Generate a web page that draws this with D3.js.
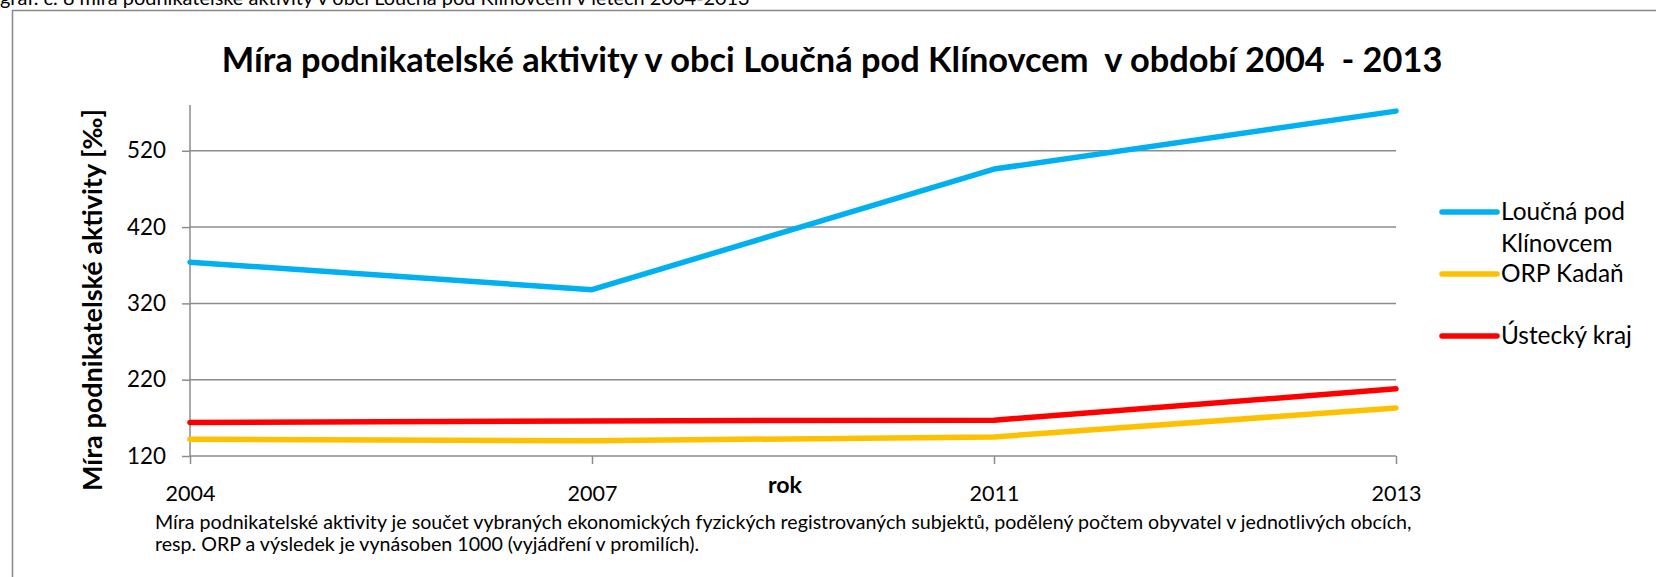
<!DOCTYPE html>
<html>
<head>
<meta charset="utf-8">
<script src="https://cdn.jsdelivr.net/npm/d3@7"></script>
<style>
  html, body { margin: 0; padding: 0; background: #fff; }
  svg { display: block; font-family: Lato, "Open Sans", sans-serif; }
  text { white-space: pre; }
</style>
</head>
<body>
<svg id="chart" width="1656" height="577"></svg>
<script>
// ---- data ----
const years = ["2004", "2007", "2011", "2013"];
const loucna = [374, 338, 496, 572];
const kadan = [142, 140, 145, 183];
const ustecky = [164, 166, 167, 208];
const seriesNames = ["Loučná pod Klínovcem", "ORP Kadaň", "Ústecký kraj"];
const yTicks = [120, 220, 320, 420, 520];
const chartTitle = "Míra podnikatelské aktivity v obci Loučná pod Klínovcem  v období 2004  - 2013";
const caption = "graf. č. 8 míra podnikatelské aktivity v obci Loučná pod Klínovcem v letech 2004-2013";
const yTitle = "Míra podnikatelské aktivity [‰]";
const xTitle = "rok";
const note1 = "Míra podnikatelské aktivity je součet vybraných ekonomických fyzických registrovaných subjektů, podělený počtem obyvatel v jednotlivých obcích,";
const note2 = "resp. ORP a výsledek je vynásoben 1000 (vyjádření v promilích).";

const svg = d3.select("#chart");
const colors = ["#00B0F0", "#FFC000", "#FF0000"];
const gridColor = "#8c8c8c";

function fit(sel, target) {
  const base = 20;
  sel.attr("font-size", base);
  const w = sel.node().getComputedTextLength();
  const fs = base * target / w;
  sel.attr("font-size", fs);
  return fs;
}

// caption (cut at top, as in the reference)
const cap = svg.append("text").attr("x", 0).attr("y", 5).attr("fill", "#000")
  .attr("xml:space", "preserve").text(caption);
fit(cap, 750);

// frame
svg.append("path").attr("d", "M12.5,577 V10.5 H1656")
  .attr("fill", "none").attr("stroke", "#888").attr("stroke-width", 1.5);

// scales
const x = d3.scalePoint().domain(years).range([190, 1396]);
const y = d3.scaleLinear().domain([120, 580]).range([456, 105]);

// gridlines
svg.append("g").selectAll("line").data(yTicks.slice(1)).join("line")
  .attr("x1", 190).attr("x2", 1396)
  .attr("y1", d => y(d)).attr("y2", d => y(d))
  .attr("stroke", gridColor).attr("stroke-width", 1.5);

// y axis
const yAxis = svg.append("g").attr("transform", "translate(190,0)")
  .call(d3.axisLeft(y).tickValues(yTicks).tickSize(8).tickPadding(16).tickFormat(d3.format("d")));
yAxis.select(".domain").remove();
yAxis.selectAll(".tick line").attr("stroke", gridColor).attr("stroke-width", 1.5);
yAxis.selectAll(".tick text").attr("fill", "#000").attr("font-family", "Lato, sans-serif");
svg.append("line").attr("x1", 190).attr("x2", 190).attr("y1", 105).attr("y2", 456)
  .attr("stroke", gridColor).attr("stroke-width", 1.5);

// x axis
const xAxis = svg.append("g").attr("transform", "translate(0,456)")
  .call(d3.axisBottom(x).tickSize(8).tickPadding(22));
xAxis.select(".domain").remove();
xAxis.selectAll(".tick line").attr("stroke", gridColor).attr("stroke-width", 1.5);
xAxis.selectAll(".tick text").attr("fill", "#000").attr("font-family", "Lato, sans-serif");
svg.append("line").attr("x1", 190).attr("x2", 1396).attr("y1", 456).attr("y2", 456)
  .attr("stroke", gridColor).attr("stroke-width", 1.5);

// tick font sizes fitted
{
  const t = xAxis.selectAll(".tick text").filter(d => d === "2004");
  const fs = fit(t, 50);
  xAxis.selectAll(".tick text").attr("font-size", fs);
  const t2 = yAxis.selectAll(".tick text").filter(d => d === 520);
  const fs2 = fit(t2, 39);
  yAxis.selectAll(".tick text").attr("font-size", fs2);
}

// lines
const line = d3.line().x((d, i) => x(years[i])).y(d => y(d));
[loucna, kadan, ustecky].forEach((s, k) => {
  svg.append("path").datum(s).attr("d", line)
    .attr("fill", "none").attr("stroke", colors[k]).attr("stroke-width", 5.5)
    .attr("stroke-linecap", "round").attr("stroke-linejoin", "round");
});

// title
const tt = svg.append("text").attr("x", 832).attr("y", 72).attr("text-anchor", "middle")
  .attr("xml:space", "preserve")
  .attr("font-weight", "bold").attr("fill", "#000").text(chartTitle);
fit(tt, 1221);

// y title
const yt = svg.append("text").attr("transform", "translate(102,300) rotate(-90)")
  .attr("text-anchor", "middle").attr("font-weight", "bold").attr("fill", "#000").text(yTitle);
fit(yt, 382);

// x title
const xt = svg.append("text").attr("x", 785).attr("y", 493).attr("text-anchor", "middle")
  .attr("font-weight", "bold").attr("fill", "#000").text(xTitle);
fit(xt, 34);

// note
const n1 = svg.append("text").attr("x", 155).attr("y", 529).attr("fill", "#000").text(note1);
const nfs = fit(n1, 1258);
svg.append("text").attr("x", 155).attr("y", 551).attr("fill", "#000").attr("font-size", nfs).text(note2);

// legend
const legY = [212, 274, 336];
const lg = svg.append("g");
seriesNames.forEach((name, k) => {
  lg.append("line").attr("x1", 1442).attr("x2", 1497).attr("y1", legY[k]).attr("y2", legY[k])
    .attr("stroke", colors[k]).attr("stroke-width", 5.5).attr("stroke-linecap", "round");
});
const l3 = lg.append("text").attr("x", 1501).attr("y", legY[2] + 8).attr("fill", "#000").text(seriesNames[2]);
const lfs = fit(l3, 131);
const l1 = lg.append("text").attr("x", 1501).attr("y", legY[0] + 8).attr("fill", "#000").attr("font-size", lfs);
l1.append("tspan").attr("x", 1501).text("Loučná pod");
l1.append("tspan").attr("x", 1501).attr("dy", 32).text("Klínovcem");
lg.append("text").attr("x", 1501).attr("y", legY[1] + 8).attr("fill", "#000").attr("font-size", lfs).text(seriesNames[1]);
</script>
</body>
</html>
